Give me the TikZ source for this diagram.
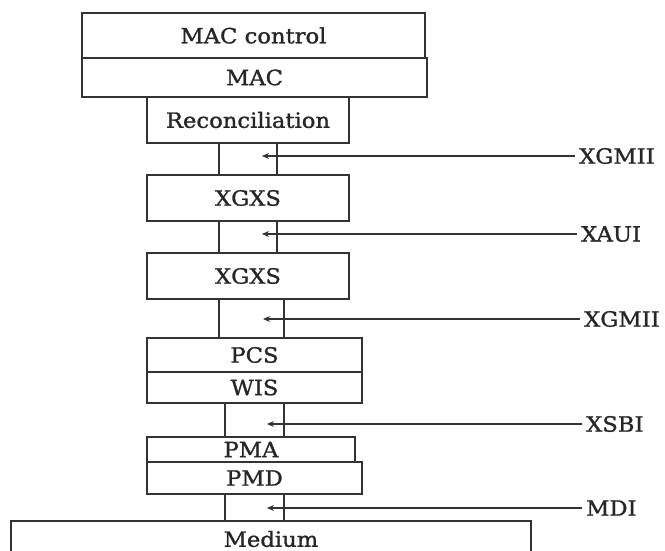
\documentclass[tikz,border=0pt]{standalone}
\usepackage{fontspec}
\setmainfont{DejaVu Serif}[FakeStretch=1.08, FakeBold=1.2]
\usetikzlibrary{arrows.meta, positioning}

\tikzset{
  layer/.style={draw=black!80, line width=2pt, rectangle, inner sep=0pt,
    text=black!85, font=\fontsize{21}{21}\selectfont},
  iface/.style={anchor=west, inner sep=4pt, text=black!85,
    font=\fontsize{21}{21}\selectfont},
  feed/.style={draw=black!80, line width=1.6pt, -{Stealth[length=7pt, width=6pt]}},
}

\begin{document}
\begin{tikzpicture}[x=1pt, y=-1pt]
  \useasboundingbox (0,0) rectangle (665,551);
  \clip (0,0) rectangle (665,551);

  % layer stack
  \node[layer, minimum width=343pt, minimum height=45pt] (macctl) at (253.5,35.5) {MAC control};
  \node[layer, minimum width=345pt, minimum height=39pt] (mac) at (254.5,77.5) {MAC};
  \node[layer, minimum width=202pt, minimum height=46pt] (recon) at (248,120) {Reconciliation};
  \node[layer, minimum width=202pt, minimum height=46pt] (xgxsA) at (248,198) {XGXS};
  \node[layer, minimum width=202pt, minimum height=46pt] (xgxsB) at (248,276) {XGXS};
  \node[layer, minimum width=215pt, minimum height=34pt] (pcs) at (254.5,355) {PCS};
  \node[layer, minimum width=215pt, minimum height=31pt] (wis) at (254.5,387.5) {WIS};
  \node[layer, minimum width=208pt, minimum height=25pt] (pma) at (251,449.5) {PMA};
  \node[layer, minimum width=215pt, minimum height=32pt] (pmd) at (254.5,478) {PMD};
  \node[layer, minimum width=520pt, minimum height=36pt] (medium) at (271,539) {Medium};

  % interface gaps between layers
  \foreach \up/\dn/\xl/\xr in {recon/xgxsA/219/277, xgxsA/xgxsB/219/277,
      xgxsB/pcs/219/284, wis/pma/225/284, pmd/medium/225/284} {
    \draw[black!80, line width=2pt] (\xl,0 |- \up.south) -- (\xl,0 |- \dn.north);
    \draw[black!80, line width=2pt] (\xr,0 |- \up.south) -- (\xr,0 |- \dn.north);
  }

  % interface names
  \node[iface] (xgmiiA) at (575,156) {XGMII};
  \node[iface] (xaui) at (577,234) {XAUI};
  \node[iface] (xgmiiB) at (580,319) {XGMII};
  \node[iface] (xsbi) at (582,424) {XSBI};
  \node[iface] (mdi) at (582,508) {MDI};

  \coordinate (tipA) at (262,156);
  \coordinate (tipB) at (262,234);
  \coordinate (tipC) at (263,319);
  \coordinate (tipD) at (267,424);
  \coordinate (tipE) at (267,508);

  \draw[feed] (xgmiiA.west) -- (tipA);
  \draw[feed] (xaui.west) -- (tipB);
  \draw[feed] (xgmiiB.west) -- (tipC);
  \draw[feed] (xsbi.west) -- (tipD);
  \draw[feed] (mdi.west) -- (tipE);
\end{tikzpicture}
\end{document}
